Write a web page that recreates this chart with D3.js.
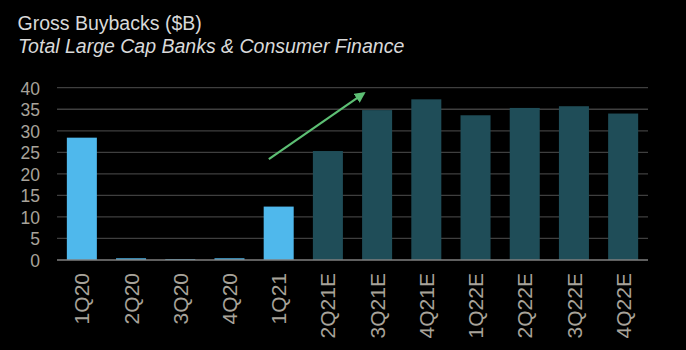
<!DOCTYPE html>
<html>
<head>
<meta charset="utf-8">
<script src="https://cdn.jsdelivr.net/npm/d3@7"></script>
<style>
  html, body { margin: 0; padding: 0; background: #000; }
  svg { display: block; }
</style>
</head>
<body>
<svg id="chart" width="686" height="350"></svg>
<script>
// Quarterly gross buybacks, $B (actuals then estimates)
const categories = ["1Q20", "2Q20", "3Q20", "4Q20", "1Q21", "2Q21E", "3Q21E", "4Q21E", "1Q22E", "2Q22E", "3Q22E", "4Q22E"];
const values = [28.4, 0.4, 0.2, 0.4, 12.4, 25.3, 34.8, 37.3, 33.6, 35.3, 35.7, 34.0];
const isEstimate = [false, false, false, false, false, true, true, true, true, true, true, true];
const yTicks = [0, 5, 10, 15, 20, 25, 30, 35, 40];
// Trend arrow endpoints: [position in category steps from the first bar, value]
const arrowFrom = [3.8, 23.4];
const arrowTo = [5.73, 38.7];

const svg = d3.select("#chart");
const W = 686, H = 350;
svg.append("rect").attr("width", W).attr("height", H).attr("fill", "#000");

const margin = { left: 57, right: 38 };
const x = d3.scaleBand().domain(categories).range([margin.left, W - margin.right]).paddingInner(0.39).paddingOuter(0.2);
const y = d3.scaleLinear().domain([0, 40]).range([260, 87.7]);

const FONT = "Liberation Sans, Arial, sans-serif";

// Titles
svg.append("text").attr("x", 17.5).attr("y", 30)
  .attr("font-family", FONT).attr("font-size", 19.5)
  .attr("fill", "#d9d9d9").text("Gross Buybacks ($B)");
svg.append("text").attr("x", 18).attr("y", 53)
  .attr("font-family", FONT).attr("font-size", 19.5)
  .attr("font-style", "italic").attr("fill", "#d9d9d9").text("Total Large Cap Banks & Consumer Finance");

// Gridlines
svg.append("g").selectAll("line").data(yTicks.filter(d => d > 0)).join("line")
  .attr("x1", margin.left).attr("x2", W - margin.right)
  .attr("y1", d => y(d)).attr("y2", d => y(d))
  .attr("stroke", "#3f3f3f").attr("stroke-width", 1.3);

// Y axis labels
const yAxis = d3.axisLeft(y).tickValues(yTicks).tickSize(0).tickPadding(0);
const gy = svg.append("g").attr("transform", "translate(40,0)").call(yAxis);
gy.select(".domain").remove();
gy.selectAll("text").attr("font-family", FONT)
  .attr("font-size", 17.5).attr("fill", "#a8a39a").attr("dy", "0.36em");

// Bars
svg.append("g").selectAll("rect").data(categories).join("rect")
  .attr("x", d => x(d))
  .attr("width", x.bandwidth())
  .attr("y", (d, i) => y(values[i]))
  .attr("height", (d, i) => y(0) - y(values[i]))
  .attr("fill", (d, i) => isEstimate[i] ? "#1f4d58" : "#4fb8ec");

// Baseline
svg.append("line").attr("x1", margin.left).attr("x2", W - margin.right)
  .attr("y1", y(0)).attr("y2", y(0)).attr("stroke", "#7f7f7f").attr("stroke-width", 1.5);

// X axis labels (rotated)
const xAxis = d3.axisBottom(x).tickSize(0).tickPadding(0);
const gx = svg.append("g").attr("transform", `translate(0,${y(0)})`).call(xAxis);
gx.select(".domain").remove();
gx.selectAll("text")
  .attr("font-family", FONT).attr("font-size", 21)
  .attr("fill", "#a8a39a")
  .attr("text-anchor", "end")
  .attr("transform", "translate(0,13) rotate(-90)")
  .attr("dx", 0).attr("dy", "0.36em").attr("y", 0);

// Trend arrow
const bandStep = x.step();
const xAt = t => x(categories[0]) + x.bandwidth() / 2 + t * bandStep;
svg.append("defs").append("marker").attr("id", "arrowhead")
  .attr("viewBox", "0 0 10 10").attr("refX", 8).attr("refY", 5)
  .attr("markerWidth", 5).attr("markerHeight", 5).attr("orient", "auto")
  .append("path").attr("d", "M0,0 L10,5 L0,10 Z").attr("fill", "#5dbf74");
svg.append("line")
  .attr("x1", xAt(arrowFrom[0])).attr("y1", y(arrowFrom[1]))
  .attr("x2", xAt(arrowTo[0])).attr("y2", y(arrowTo[1]))
  .attr("stroke", "#5dbf74").attr("stroke-width", 2.2)
  .attr("marker-end", "url(#arrowhead)");
</script>
</body>
</html>
